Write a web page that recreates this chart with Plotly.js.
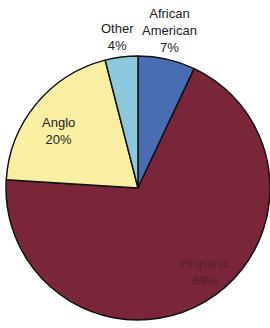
<!DOCTYPE html>
<html>
<head>
<meta charset="utf-8">
<script src="https://cdn.plot.ly/plotly-3.0.1.min.js"></script>
<style>html,body{margin:0;padding:0;background:#fff;}#chart{width:270px;height:328px;}</style>
</head>
<body>
<div id="chart"></div>
<script>
const labels = ["African American", "Hispanic", "Anglo", "Other"];
const labelLines = ["African<br>American", "Hispanic", "Anglo", "Other"];
const values = [7, 69, 20, 4];
const sliceColors = ["#4a6cb0", "#7a2538", "#f8efa2", "#8dc9de"];

const labelPos = [
  {x: 169, y: 31, color: "#222222"},
  {x: 205, y: 272, color: "#54202e"},
  {x: 58, y: 131, color: "#222222"},
  {x: 117, y: 37, color: "#222222"}
];
const W = 270, H = 328;

const annotations = labels.map((l, i) => ({
  text: labelLines[i] + "<br>" + values[i] + "%",
  x: labelPos[i].x / W, y: 1 - labelPos[i].y / H,
  xref: "paper", yref: "paper", xanchor: "center", yanchor: "middle",
  showarrow: false,
  font: {family: "Liberation Sans, Arial, sans-serif", size: 13, color: labelPos[i].color}
}));

Plotly.newPlot("chart", [{
  type: "pie",
  labels: labels,
  values: values,
  sort: false,
  direction: "clockwise",
  rotation: 0,
  textinfo: "none",
  hoverinfo: "none",
  marker: {colors: sliceColors, line: {color: "#111111", width: 1.5}},
  domain: {x: [6/W, 270/W], y: [8/H, 272/H]}
}], {
  width: W, height: H,
  margin: {l: 0, r: 0, t: 0, b: 0},
  showlegend: false,
  paper_bgcolor: "#ffffff",
  annotations: annotations
}, {staticPlot: true});
</script>
</body>
</html>
